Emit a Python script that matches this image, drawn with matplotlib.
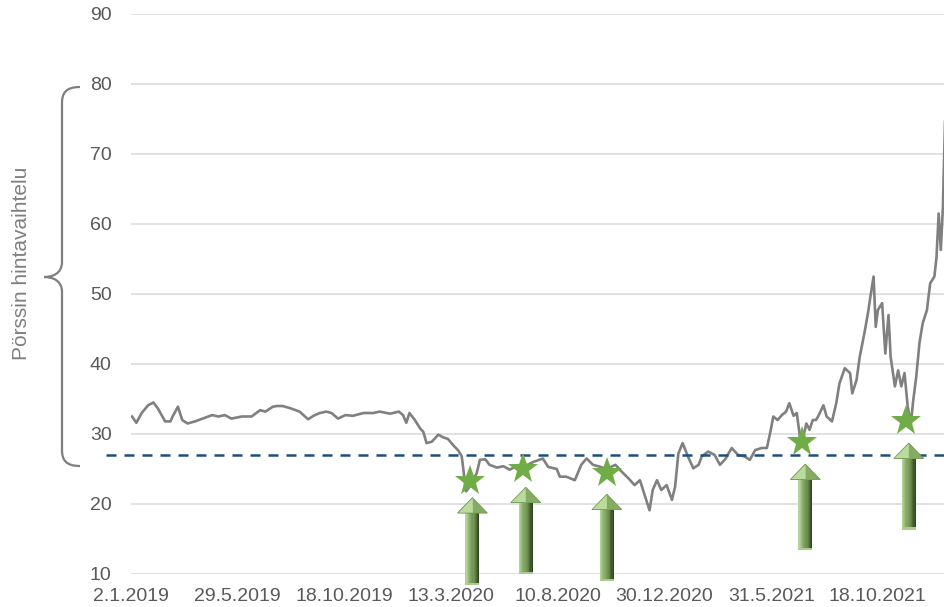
import matplotlib.pyplot as plt
import numpy as np
from matplotlib.patches import Polygon, Rectangle, PathPatch
from matplotlib.path import Path
from matplotlib.colors import LinearSegmentedColormap

plt.rcParams['font.family'] = ['Liberation Sans', 'DejaVu Sans']

# Kurssi (pörssipäivän indeksi, hinta) luettu kuvasta
paiva = [1, 5, 10, 16, 21, 25, 32, 37, 39, 44, 48, 53, 60, 69, 76, 82, 88, 94,
         104, 113, 121, 126, 133, 137, 142, 149, 158, 166, 171, 177, 183, 188,
         194, 201, 208, 218, 227, 233, 243, 251, 255, 258, 261, 266, 271, 274,
         277, 282, 288, 293, 297, 302, 307, 310, 314, 318, 324, 327, 332, 336,
         343, 349, 355, 361, 368, 377, 386, 391, 399, 402, 408, 416, 422, 427,
         433, 440, 446, 454, 460, 466, 472, 477, 482, 486, 489, 493, 497, 502,
         507, 510, 513, 517, 522, 527, 532, 535, 541, 547, 552, 557, 563, 569,
         575, 580, 585, 591, 596, 599, 602, 606, 610, 614, 617, 621, 624, 627,
         630, 633, 636, 639, 642, 644, 649, 652, 657, 661, 664, 669, 674, 676,
         680, 683, 688, 691, 693, 696, 698, 700, 704, 707, 710, 712, 716, 719,
         722, 725, 728, 731, 733, 736, 739, 742, 746, 749, 753, 755, 757, 759,
         761, 763, 766]
hinta = [32.5, 31.6, 33.0, 34.1, 34.5, 33.7, 31.8, 31.8, 32.5, 33.9, 32.0, 31.5,
         31.8, 32.3, 32.7, 32.5, 32.7, 32.2, 32.5, 32.5, 33.4, 33.2, 33.9, 34.0,
         34.0, 33.7, 33.2, 32.1, 32.6, 33.0, 33.2, 33.0, 32.2, 32.7, 32.6, 33.0,
         33.0, 33.2, 32.9, 33.2, 32.7, 31.6, 33.0, 32.0, 30.8, 30.3, 28.7, 28.9,
         29.9, 29.5, 29.3, 28.4, 27.6, 26.8, 21.8, 22.6, 24.4, 26.3, 26.4, 25.6,
         25.2, 25.4, 24.9, 25.4, 25.3, 26.0, 26.5, 25.3, 25.0, 23.9, 23.9, 23.4,
         25.6, 26.5, 25.6, 25.3, 25.0, 25.6, 24.6, 23.7, 22.7, 23.4, 21.0, 19.1,
         22.0, 23.4, 22.0, 22.7, 20.6, 22.5, 27.2, 28.7, 26.8, 25.1, 25.6, 26.8,
         27.5, 27.0, 25.6, 26.4, 28.0, 27.0, 26.8, 26.3, 27.7, 28.0, 28.0, 30.1,
         32.5, 32.0, 32.7, 33.2, 34.4, 32.6, 33.0, 29.6, 29.5, 31.5, 30.6, 32.0,
         32.0, 32.5, 34.1, 32.5, 31.8, 34.4, 37.2, 39.4, 38.7, 35.8, 37.7, 41.0,
         44.9, 47.5, 49.6, 52.5, 45.3, 47.7, 48.7, 41.5, 47.0, 41.0, 36.8, 39.1,
         36.8, 38.7, 33.9, 31.5, 34.6, 38.2, 43.0, 45.8, 47.7, 51.5, 52.5, 55.3,
         61.5, 56.3, 62.5, 75.0, 80.0]

x_tick_paikat = [0, 100, 200, 300, 400, 500, 600, 700]
x_tick_tekstit = ['2.1.2019', '29.5.2019', '18.10.2019', '13.3.2020',
                  '10.8.2020', '30.12.2020', '31.5.2021', '18.10.2021']

raja = 27.0  # katkoviiva

# Tähdet (ostokohdat)
tahti_x = [318, 367, 446, 629, 726]
tahti_y = [23.3, 25.0, 24.4, 28.9, 31.9]

# Nuolet: keskikohta, kärki, pohja
nuoli_x = [320, 370, 446, 632, 729]
nuoli_karki = [20.9, 22.4, 21.4, 25.7, 28.7]
nuoli_pohja = [8.4, 10.0, 9.0, 13.4, 16.3]

fig = plt.figure(figsize=(9.44, 6.07), dpi=100)
ax = fig.add_axes([131 / 944, 1 - 574 / 607, 1 - 131 / 944, (574 - 14) / 607])

ax.plot(paiva, hinta, color='#808080', lw=1.9, zorder=3, solid_joinstyle='round')
ax.plot([-23, 770], [raja, raja], color='#1f4e79', lw=1.8, ls=(0, (4, 3.2)),
        clip_on=False, zorder=4)

ax.set_xlim(0, 762)
ax.set_ylim(10, 90)
ax.set_yticks(range(10, 91, 10))
ax.set_xticks(x_tick_paikat)
ax.set_xticklabels(x_tick_tekstit)
ax.tick_params(axis='both', length=0, labelsize=14, labelcolor='#595959')
ax.tick_params(axis='y', pad=14)
ax.tick_params(axis='x', pad=10)
ax.grid(axis='y', color='#d9d9d9', lw=1.1)
ax.set_axisbelow(True)
for s in ax.spines.values():
    s.set_visible(False)

# Nuolet väriliu'ulla
varit = LinearSegmentedColormap.from_list('nuoli', ['#b3d497', '#86a866', '#6a8a4c', '#2f4520'])
for xc, yt, yb in zip(nuoli_x, nuoli_karki, nuoli_pohja):
    leveys = 6.5
    pita = 14.0
    kork = 2.2
    n = 12
    for i in range(n):
        x0 = xc - leveys + 2 * leveys * i / n
        ax.add_patch(Rectangle((x0, yb), 2 * leveys / n + 0.05, yt - kork - yb,
                               color=varit(i / (n - 1)), lw=0, zorder=5, clip_on=False))
    ax.add_patch(Rectangle((xc - leveys, yb), 2 * leveys, 0.35, color='#a9cc8c',
                           lw=0, zorder=6, clip_on=False))
    ax.add_patch(Polygon([(xc - pita, yt - kork), (xc, yt - kork), (xc, yt)],
                         closed=True, color='#b9dc9c', lw=0, zorder=6, clip_on=False))
    ax.add_patch(Polygon([(xc, yt - kork), (xc + pita, yt - kork), (xc, yt)],
                         closed=True, color='#86ac64', lw=0, zorder=6, clip_on=False))
    ax.add_patch(Polygon([(xc - pita, yt - kork), (xc + pita, yt - kork), (xc, yt)],
                         closed=True, fill=False, ec='#6f9650', lw=0.6, zorder=7,
                         clip_on=False))

ax.plot(tahti_x, tahti_y, ls='none', marker='*', ms=23, color='#70ad47',
        mec='#70ad47', mew=0, zorder=8, clip_on=False)

# Aaltosulje vasemmalla (pikseleinä)
H = 607
def p(x, y):
    return (x / 944, 1 - y / H)

verts = [p(80, 87), p(66, 87), p(62, 93), p(62, 103),
         p(62, 262),
         p(62, 274), p(52, 277), p(44, 277),
         p(52, 277), p(62, 280), p(62, 292),
         p(62, 450),
         p(62, 460), p(66, 466), p(80, 466)]
codes = [Path.MOVETO, Path.CURVE4, Path.CURVE4, Path.CURVE4,
         Path.LINETO,
         Path.CURVE4, Path.CURVE4, Path.CURVE4,
         Path.CURVE4, Path.CURVE4, Path.CURVE4,
         Path.LINETO,
         Path.CURVE4, Path.CURVE4, Path.CURVE4]
fig.patches.append(PathPatch(Path(verts, codes), transform=fig.transFigure,
                             fill=False, ec='#7f7f7f', lw=1.6))

fig.text(22 / 944, 1 - 263 / H, 'Pörssin hintavaihtelu', rotation=90,
         ha='center', va='center', fontsize=15, color='#7f7f7f')

fig.savefig('out.png', dpi=100)
